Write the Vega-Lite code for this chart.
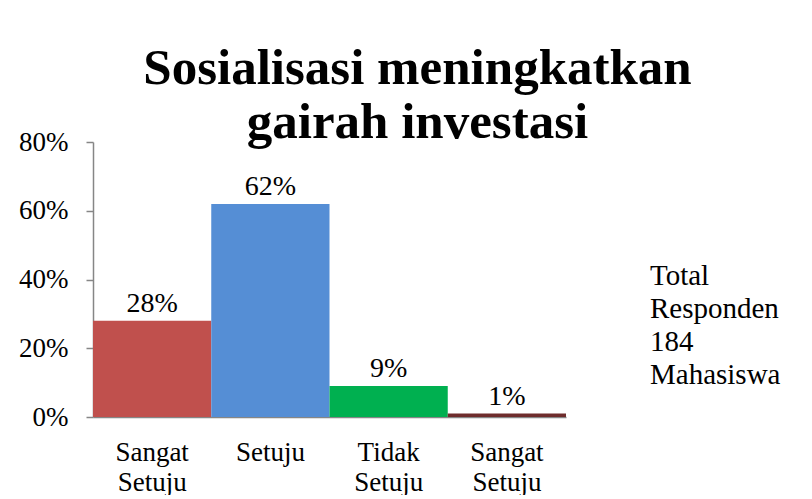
{
  "$schema": "https://vega.github.io/schema/vega-lite/v6.json",
  "background": "white",
  "autosize": {"type": "pad"},
  "padding": {"left": 18, "top": 43, "right": 0, "bottom": 0},
  "bounds": "flush",
  "datasets": {
    "survey": [
      {"kategori": "Sangat Setuju", "persen": 0.28},
      {"kategori": "Setuju", "persen": 0.62},
      {"kategori": "Tidak Setuju", "persen": 0.09},
      {"kategori": "Sangat Setuju ", "persen": 0.01}
    ],
    "catatan": [
      {"teks": "Total\nResponden\n184\n\u2005Mahasiswa"}
    ]
  },
  "spacing": 0,
  "hconcat": [
    {
      "width": 473,
      "height": 275,
      "title": {
        "text": ["Sosialisasi meningkatkan", "gairah investasi"],
        "font": "Liberation Serif",
        "fontSize": 51,
        "fontWeight": "bold",
        "lineHeight": 54,
        "anchor": "middle",
        "frame": "group",
        "dx": 88,
        "color": "black",
        "offset": -21
      },
      "data": {"name": "survey"},
      "encoding": {
        "x": {
          "field": "kategori",
          "type": "nominal",
          "sort": null,
          "scale": {"paddingInner": 0, "paddingOuter": 0},
          "axis": {
            "title": null,
            "labelAngle": 0,
            "ticks": false,
            "labelExpr": "split(trim(datum.label), ' ')",
            "labelFont": "Liberation Serif",
            "labelFontSize": 27,
            "labelLineHeight": 30,
            "labelColor": "black",
            "labelPadding": 22,
            "labelBaseline": "top",
            "labelLimit": 0,
            "domainColor": "#868686",
            "domainWidth": 1.5
          }
        },
        "y": {
          "field": "persen",
          "type": "quantitative",
          "scale": {"domain": [0, 0.8], "nice": false},
          "axis": {
            "title": null,
            "values": [0, 0.2, 0.4, 0.6, 0.8],
            "format": ".0%",
            "grid": false,
            "tickSize": 7,
            "tickColor": "#868686",
            "tickWidth": 1.5,
            "domainColor": "#868686",
            "domainWidth": 1.5,
            "labelFont": "Liberation Serif",
            "labelFontSize": 27,
            "labelColor": "black",
            "labelPadding": 18,
            "labelFlush": false,
            "labelOverlap": false
          }
        }
      },
      "layer": [
        {
          "mark": {"type": "bar"},
          "encoding": {
            "color": {
              "field": "kategori",
              "type": "nominal",
              "sort": null,
              "scale": {
                "domain": ["Sangat Setuju", "Setuju", "Tidak Setuju", "Sangat Setuju "],
                "range": ["#C0504D", "#558ED5", "#00B050", "#6E2C2C"]
              },
              "legend": null
            }
          }
        },
        {
          "mark": {
            "type": "text",
            "baseline": "alphabetic",
            "dy": -9,
            "font": "Liberation Serif",
            "fontSize": 28,
            "color": "black"
          },
          "encoding": {
            "text": {"field": "persen", "type": "quantitative", "format": ".0%"}
          }
        }
      ]
    },
    {
      "width": 168,
      "height": 268,
      "data": {"name": "catatan"},
      "mark": {
        "type": "text",
        "align": "left",
        "baseline": "middle",
        "lineBreak": "\n",
        "lineHeight": 33,
        "font": "Liberation Serif",
        "fontSize": 29,
        "color": "black"
      },
      "encoding": {
        "text": {"field": "teks", "type": "nominal"}
      }
    }
  ],
  "config": {
    "view": {"stroke": null}
  }
}
